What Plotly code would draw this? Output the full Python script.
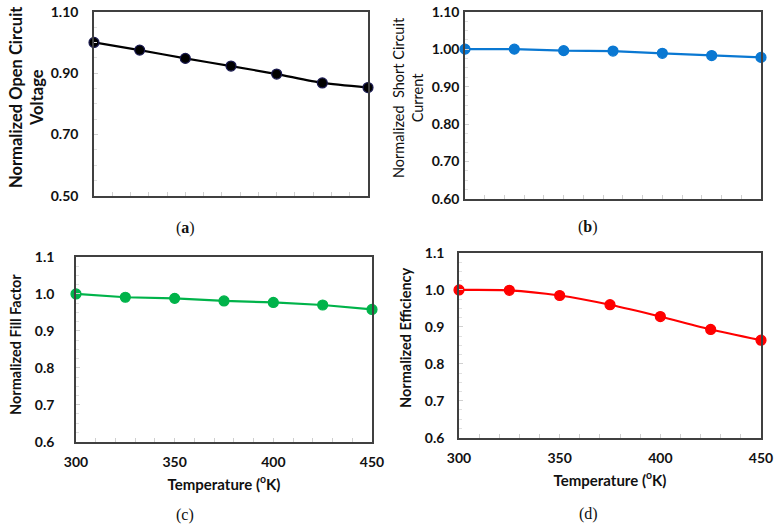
import plotly.graph_objects as go

# temperature (K) and normalized solar cell parameters
temps = [300, 325, 350, 375, 400, 425, 450]
voc = [1.000, 0.975, 0.948, 0.923, 0.897, 0.868, 0.853]
isc = [1.000, 1.000, 0.996, 0.995, 0.989, 0.983, 0.978]
ff = [1.000, 0.991, 0.988, 0.981, 0.977, 0.970, 0.958]
eff = [1.000, 0.999, 0.985, 0.960, 0.928, 0.893, 0.864]

W, H = 777, 526
LBL = "Lato"
SERIF = "Liberation Serif"
FRAME = "#404040"


def fx(a):
    return a / W


def fy(a):
    return 1 - a / H


fig = go.Figure()

panels = [
    # name, y, color, marker outline, shape, left, right, top, bottom, yrange, dtick, fmt, standoff
    ("a", voc, "#000000", "#1a1a50", "spline", 94, 368, 11.7, 196, [0.5, 1.1], 0.2, ".2f", 11),
    ("b", isc, "#0a78d2", "#0a78d2", "linear", 465, 761, 11.7, 199, [0.6, 1.1], 0.1, ".2f", 1),
    ("c", ff, "#00b34a", "#00b34a", "linear", 76, 372, 257, 441.7, [0.6, 1.1], 0.1, ".1f", 17),
    ("d", eff, "#ff0000", "#ff0000", "spline", 459, 761, 253, 437.7, [0.6, 1.1], 0.1, ".1f", 10),
]

for i, (name, vals, col, edge, shape, l, r, t, b, yr, dt, fmt, so) in enumerate(panels):
    k = "" if i == 0 else str(i + 1)
    fig.add_trace(go.Scatter(
        x=temps, y=vals, xaxis="x" + k, yaxis="y" + k,
        mode="lines+markers",
        line=dict(color=col, width=2.2, shape=shape, smoothing=0.6),
        marker=dict(color=col, size=10, line=dict(color=edge, width=1.2)),
        cliponaxis=False, showlegend=False,
    ))
    bottom = name in ("c", "d")
    xaxis = dict(
        domain=[fx(l), fx(r)], anchor="y" + k, range=[300, 450],
        showline=True, mirror=True, linecolor=FRAME, linewidth=1.6,
        showgrid=False, zeroline=False,
        tickvals=[300, 350, 400, 450],
        showticklabels=bottom,
        tickfont=dict(family=LBL, size=14, color="#111111", weight="bold"),
        ticks="inside", ticklen=4, tickcolor="#d0d0d0",
        ticklabelstandoff=7, ticklabeloverflow="allow",
        minor=dict(dtick=10, ticks="inside", ticklen=4, tickcolor="#d0d0d0"),
        automargin=False,
    )
    if bottom:
        xaxis["title"] = dict(text="Temperature (<sup>o</sup>K)",
                              font=dict(family=LBL, size=15, color="#111111", weight="bold"),
                              standoff=10)
    fig.layout["xaxis" + k] = xaxis
    fig.layout["yaxis" + k] = dict(
        domain=[fy(b), fy(t)], anchor="x" + k, range=yr,
        showline=True, mirror=True, linecolor=FRAME, linewidth=1.6,
        showgrid=False, zeroline=False,
        dtick=dt, tick0=yr[0], tickformat=fmt,
        tickfont=dict(family=LBL, size=14, color="#111111", weight="bold"),
        ticks="inside", ticklen=4, tickcolor="#d0d0d0",
        ticklabelstandoff=so, ticklabeloverflow="allow",
        minor=dict(dtick=dt / 4, ticks="inside", ticklen=3, tickcolor="#e0e0e0"),
        automargin=False,
    )

# y axis titles placed as annotations
ytitles = [
    ("Normalized Open Circuit<br>Voltage", 27, 97, 16.5, "bold"),
    ("Normalized  Short Circuit<br>Current", 408, 97, 14.5, "normal"),
    ("Normalized Fill Factor", 15, 345, 14.5, "bold"),
    ("Normalized Efficiency", 405, 337, 14.5, "bold"),
]
for txt, x, y, sz, wt in ytitles:
    fig.add_annotation(
        text=txt, x=fx(x), y=fy(y), xref="paper", yref="paper",
        textangle=-90, showarrow=False, xanchor="center", yanchor="middle",
        font=dict(family=LBL, size=sz, color="#111111", weight=wt),
    )

# panel captions
captions = [("(<b>a</b>)", 185, 228), ("(<b>b</b>)", 588, 227),
            ("(c)", 185, 515), ("(d)", 588, 514)]
for txt, x, y in captions:
    fig.add_annotation(
        text=txt, x=fx(x), y=fy(y), xref="paper", yref="paper",
        showarrow=False, xanchor="center", yanchor="middle",
        font=dict(family=SERIF, size=16, color="#111111"),
    )

fig.update_layout(
    width=W, height=H,
    margin=dict(l=0, r=0, t=0, b=0, autoexpand=False),
    paper_bgcolor="white", plot_bgcolor="white",
)

# drop the default body margin so the figure fills the window exactly
fig.write_html("out.html", config={"displayModeBar": False},
               post_script="document.body.style.margin = '0';")
